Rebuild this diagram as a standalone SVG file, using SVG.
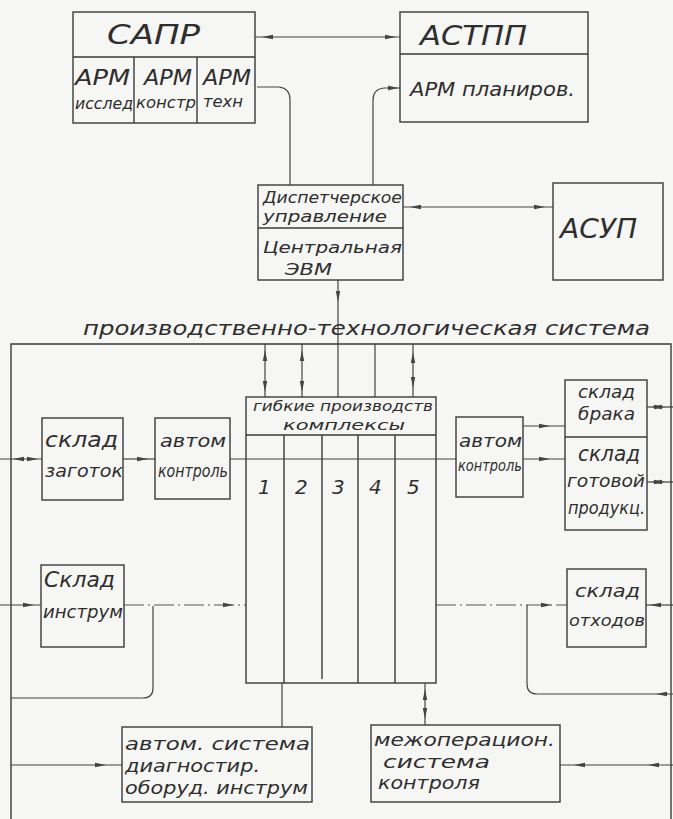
<svg xmlns="http://www.w3.org/2000/svg" width="673" height="819" viewBox="0 0 673 819">
<style>
.b{fill:none;stroke:#3a3a3a;stroke-width:1.4}
.l{fill:none;stroke:#444;stroke-width:1.2}
.d{fill:none;stroke:#555;stroke-width:1.2;stroke-dasharray:20 4 2 4}
text{font-family:"DejaVu Sans","Liberation Sans",sans-serif;font-style:italic;font-weight:200;fill:#2e2e2e;font-size:18px}
.xl{font-size:26px}
.a{font-size:21px}
.s{font-size:15px}
.t{font-size:20px}
.h{font-size:16px}
.g{font-size:14px}
.n{font-size:20px}
.ah{fill:#444}
</style>
<defs>
<path id="ah" d="M0,0 L-11,-2.2 L-11,2.2 z"/>
</defs>
<rect width="673" height="819" fill="#f6f6f4"/>

<g id="connectors">
<line class="l" x1="255" y1="37" x2="400" y2="37"/>
<path class="l" d="M257,87 H279 Q290,88 290,100 V185"/>
<path class="l" d="M373,185 V100 Q373,89 384,88 H400"/>
<line class="l" x1="403" y1="207" x2="553" y2="207"/>
<line class="l" x1="338" y1="280" x2="338" y2="397"/>
<line class="l" x1="265" y1="344" x2="265" y2="397"/>
<line class="l" x1="302" y1="344" x2="302" y2="397"/>
<line class="l" x1="375" y1="344" x2="375" y2="397"/>
<line class="l" x1="413" y1="344" x2="413" y2="397"/>
<line class="l" x1="0" y1="459" x2="42" y2="459"/>
<line class="l" x1="123" y1="459" x2="155" y2="459"/>
<line class="l" x1="230" y1="459" x2="456" y2="459"/>
<line class="l" x1="523" y1="426" x2="565" y2="426"/>
<line class="l" x1="523" y1="459" x2="565" y2="459"/>
<line class="l" x1="647" y1="407" x2="673" y2="407"/>
<line class="l" x1="647" y1="482" x2="673" y2="482"/>
<line class="l" x1="0" y1="605" x2="41" y2="605"/>
<line class="d" x1="124" y1="605" x2="246" y2="605"/>
<path class="l" d="M153,606 V688 Q153,698 143,698 H11"/>
<line class="d" x1="436" y1="605" x2="567" y2="605"/>
<line class="l" x1="646" y1="605" x2="673" y2="605"/>
<path class="l" d="M673,694 H537 Q527,694 527,684 V605"/>
<line class="l" x1="282" y1="683" x2="282" y2="727"/>
<line class="l" x1="425" y1="683" x2="425" y2="725"/>
<line class="l" x1="11" y1="765" x2="122" y2="765"/>
<line class="l" x1="673" y1="765" x2="560" y2="765"/>
<g class="ah">
<use href="#ah" transform="translate(262,37) rotate(180)"/>
<use href="#ah" transform="translate(396,37)"/>
<use href="#ah" transform="translate(399,88)"/>
<use href="#ah" transform="translate(410,207) rotate(180)"/>
<use href="#ah" transform="translate(545,207)"/>
<use href="#ah" transform="translate(338,302) rotate(90)"/>
<use href="#ah" transform="translate(265,350) rotate(-90)"/>
<use href="#ah" transform="translate(265,392) rotate(90)"/>
<use href="#ah" transform="translate(302,350) rotate(-90)"/>
<use href="#ah" transform="translate(302,392) rotate(90)"/>
<use href="#ah" transform="translate(413,352) rotate(-90)"/>
<use href="#ah" transform="translate(413,388) rotate(90)"/>
<use href="#ah" transform="translate(13,459) rotate(180)"/>
<use href="#ah" transform="translate(38,459)"/>
<use href="#ah" transform="translate(148,459)"/>
<use href="#ah" transform="translate(550,426)"/>
<use href="#ah" transform="translate(550,459)"/>
<use href="#ah" transform="translate(651,407) rotate(180)"/>
<use href="#ah" transform="translate(665,407)"/>
<use href="#ah" transform="translate(651,482) rotate(180)"/>
<use href="#ah" transform="translate(665,482)"/>
<use href="#ah" transform="translate(34,605)"/>
<use href="#ah" transform="translate(234,605)"/>
<use href="#ah" transform="translate(552,605)"/>
<use href="#ah" transform="translate(650,605) rotate(180)"/>
<use href="#ah" transform="translate(656,694) rotate(180)"/>
<use href="#ah" transform="translate(425,689) rotate(-90)"/>
<use href="#ah" transform="translate(425,719) rotate(90)"/>
<use href="#ah" transform="translate(106,765)"/>
<use href="#ah" transform="translate(574,765) rotate(180)"/>
<use href="#ah" transform="translate(648,765) rotate(180)"/>
</g>
</g>

<g id="frame">
<path class="b" d="M11,819 V344 H671 V819"/>
<text class="t" x="83" y="335" textLength="567" lengthAdjust="spacingAndGlyphs">производственно-технологическая система</text>
</g>

<g id="sapr">
<rect class="b" x="73" y="12" width="182" height="111"/>
<line class="b" x1="73" y1="57" x2="255" y2="57"/>
<line class="b" x1="134" y1="57" x2="134" y2="123"/>
<line class="b" x1="197" y1="57" x2="197" y2="123"/>
<text class="xl" x="107" y="44" textLength="93" lengthAdjust="spacingAndGlyphs">САПР</text>
<text class="a" x="75" y="85" textLength="55" lengthAdjust="spacingAndGlyphs">АРМ</text>
<text class="s" x="75" y="109" textLength="58" lengthAdjust="spacingAndGlyphs">исслед</text>
<text class="a" x="144" y="85" textLength="48" lengthAdjust="spacingAndGlyphs">АРМ</text>
<text class="s" x="136" y="108" textLength="60" lengthAdjust="spacingAndGlyphs">констр</text>
<text class="a" x="203" y="85" textLength="48" lengthAdjust="spacingAndGlyphs">АРМ</text>
<text class="s" x="203" y="107" textLength="40" lengthAdjust="spacingAndGlyphs">техн</text>
</g>

<g id="astpp">
<rect class="b" x="400" y="12" width="188" height="110"/>
<line class="b" x1="400" y1="54" x2="588" y2="54"/>
<text class="xl" x="420" y="45" textLength="107" lengthAdjust="spacingAndGlyphs">АСТПП</text>
<text class="t" x="410" y="96" textLength="165" lengthAdjust="spacingAndGlyphs">АРМ планиров.</text>
</g>

<g id="dispatch">
<rect class="b" x="258" y="185" width="145" height="95"/>
<line class="b" x1="258" y1="228" x2="403" y2="228"/>
<text class="h" x="263" y="203" textLength="139" lengthAdjust="spacingAndGlyphs">Диспетчерское</text>
<text class="h" x="263" y="222" textLength="124" lengthAdjust="spacingAndGlyphs">управление</text>
<text class="h" x="263" y="253" textLength="139" lengthAdjust="spacingAndGlyphs">Центральная</text>
<text class="h" x="285" y="275" textLength="47" lengthAdjust="spacingAndGlyphs">ЭВМ</text>
</g>

<g id="asup">
<rect class="b" x="553" y="183" width="110" height="97"/>
<text class="xl" x="560" y="238" textLength="77" lengthAdjust="spacingAndGlyphs">АСУП</text>
</g>

<g id="gpk">
<rect class="b" x="246" y="397" width="190" height="286"/>
<line class="b" x1="246" y1="435" x2="436" y2="435"/>
<line class="b" x1="284" y1="435" x2="284" y2="683"/>
<line class="b" x1="322" y1="435" x2="322" y2="679"/>
<line class="b" x1="358" y1="435" x2="358" y2="683"/>
<line class="b" x1="395" y1="435" x2="395" y2="683"/>
<text class="g" x="253" y="411" textLength="180" lengthAdjust="spacingAndGlyphs">гибкие производств</text>
<text class="g" x="283" y="430" textLength="122" lengthAdjust="spacingAndGlyphs">комплексы</text>
<text class="n" x="258" y="494">1</text>
<text class="n" x="295" y="494">2</text>
<text class="n" x="332" y="494">3</text>
<text class="n" x="369" y="494">4</text>
<text class="n" x="407" y="494">5</text>
</g>

<g id="sklad-zagotok">
<rect class="b" x="42" y="418" width="81" height="82"/>
<text class="a" x="45" y="447" textLength="73" lengthAdjust="spacingAndGlyphs">склад</text>
<text x="45" y="477" textLength="78" lengthAdjust="spacingAndGlyphs">заготок</text>
</g>

<g id="avtom-left">
<rect class="b" x="155" y="418" width="75" height="81"/>
<text x="160" y="447" textLength="66" lengthAdjust="spacingAndGlyphs">автом</text>
<text x="158" y="477" textLength="70" lengthAdjust="spacingAndGlyphs">контроль</text>
</g>

<g id="avtom-right">
<rect class="b" x="456" y="417" width="67" height="80"/>
<text x="459" y="447" textLength="63" lengthAdjust="spacingAndGlyphs">автом</text>
<text class="h" x="458" y="471" textLength="64" lengthAdjust="spacingAndGlyphs">контроль</text>
</g>

<g id="sklad-braka">
<rect class="b" x="565" y="380" width="82" height="150"/>
<line class="b" x1="565" y1="437" x2="647" y2="437"/>
<text x="578" y="398" textLength="57" lengthAdjust="spacingAndGlyphs">склад</text>
<text x="578" y="420" textLength="57" lengthAdjust="spacingAndGlyphs">брака</text>
<text class="a" x="578" y="461" textLength="62" lengthAdjust="spacingAndGlyphs">склад</text>
<text x="567" y="487" textLength="78" lengthAdjust="spacingAndGlyphs">готовой</text>
<text x="568" y="514" textLength="77" lengthAdjust="spacingAndGlyphs">продукц.</text>
</g>

<g id="sklad-instrum">
<rect class="b" x="41" y="565" width="83" height="82"/>
<text class="a" x="44" y="587" textLength="71" lengthAdjust="spacingAndGlyphs">Склад</text>
<text x="43" y="618" textLength="80" lengthAdjust="spacingAndGlyphs">инструм</text>
</g>

<g id="sklad-othodov">
<rect class="b" x="567" y="569" width="79" height="78"/>
<text x="575" y="597" textLength="65" lengthAdjust="spacingAndGlyphs">склад</text>
<text class="h" x="569" y="626" textLength="76" lengthAdjust="spacingAndGlyphs">отходов</text>
</g>

<g id="diagnost">
<rect class="b" x="122" y="727" width="190" height="75"/>
<text x="125" y="750" textLength="185" lengthAdjust="spacingAndGlyphs">автом. система</text>
<text x="125" y="772" textLength="135" lengthAdjust="spacingAndGlyphs">диагностир.</text>
<text x="125" y="794" textLength="183" lengthAdjust="spacingAndGlyphs">оборуд. инструм</text>
</g>

<g id="mezhoper">
<rect class="b" x="371" y="725" width="189" height="77"/>
<text x="374" y="746" textLength="181" lengthAdjust="spacingAndGlyphs">межоперацион.</text>
<text x="383" y="768" textLength="107" lengthAdjust="spacingAndGlyphs">система</text>
<text x="378" y="789" textLength="102" lengthAdjust="spacingAndGlyphs">контроля</text>
</g>
</svg>
